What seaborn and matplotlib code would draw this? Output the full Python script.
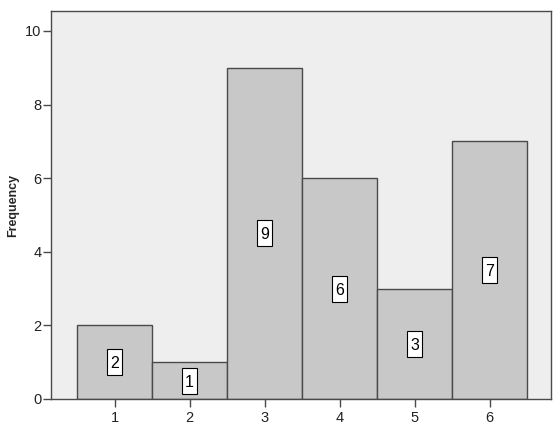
import matplotlib
matplotlib.use("Agg")
import matplotlib.pyplot as plt
import matplotlib.transforms as mtransforms
from matplotlib.patches import Rectangle
import seaborn as sns
import pandas as pd

categories = ["1", "2", "3", "4", "5", "6"]
frequencies = [2, 1, 9, 6, 3, 7]
y_ticks = [0, 2, 4, 6, 8, 10]

sns.set_theme(style="white")
plt.rcParams['font.family'] = ['Liberation Sans', 'DejaVu Sans']

df = pd.DataFrame({"cat": categories, "freq": frequencies})

fig = plt.figure(figsize=(5.59, 4.29), dpi=100)
ax = fig.add_axes([51/559, 30/429, 500/559, 388/429])
ax.set_facecolor("#EEEEEE")

sns.barplot(data=df, x="cat", y="freq", order=categories, width=1.0,
            color="#C8C8C8", saturation=1, edgecolor="#4A4A4A", linewidth=1.0, ax=ax)

# value labels in tall white boxes
box_w, box_h = 0.145, 0.26  # inches
for i, v in enumerate(frequencies):
    trans = fig.dpi_scale_trans + mtransforms.ScaledTranslation(i, v / 2, ax.transData)
    ax.add_patch(Rectangle((-box_w / 2, -box_h / 2), box_w, box_h, transform=trans,
                           facecolor="white", edgecolor="black", linewidth=0.8,
                           zorder=5, clip_on=False))
    ax.text(i, v / 2, str(v), ha="center", va="center_baseline", fontsize=11.5,
            color="black", zorder=6)

ax.set_xlim(-0.847, 5.82)
ax.set_ylim(0, 10.54)
ax.set_yticks(y_ticks)
ax.set_yticklabels([str(t) for t in y_ticks])
ax.set_xlabel("")
ax.set_ylabel("Frequency", fontsize=9, fontweight="bold", labelpad=4)

for s in ax.spines.values():
    s.set_visible(True)
    s.set_color("#4A4A4A")
    s.set_linewidth(1.0)

ax.tick_params(axis="both", which="both", direction="out", length=5.5, width=1,
               color="#4A4A4A", labelsize=10.5, labelcolor="#222222", pad=1.5,
               left=True, bottom=True)
ax.tick_params(axis="x", pad=3.5)

fig.savefig("out.png", dpi=100, facecolor="white")
